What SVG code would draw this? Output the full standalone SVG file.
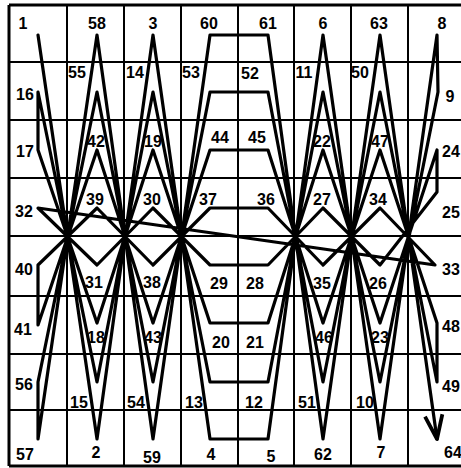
<svg xmlns="http://www.w3.org/2000/svg" width="461" height="468" viewBox="0 0 461 468">
<defs>
<style>
.grid line{stroke:#000;stroke-width:2}
.path{fill:none;stroke:#000;stroke-width:3.2;stroke-linejoin:round;stroke-linecap:round}
text{font-family:"Liberation Sans",Arial,sans-serif;font-weight:bold;font-size:16px;fill:#000;text-anchor:middle}
</style>
<marker id="arr" markerUnits="userSpaceOnUse" markerWidth="30" markerHeight="30" refX="0" refY="0" viewBox="-22 -10 24 20" orient="auto">
<path d="M-19,-7 L0,0 L-19,7" fill="none" stroke="#000" stroke-width="3" stroke-linejoin="round"/>
</marker>
</defs>
<rect width="461" height="468" fill="#fff"/>
<g class="grid" id="grid">
<line x1="9" y1="5" x2="9" y2="466" style="stroke-width:3"/>
<line x1="67" y1="5" x2="67" y2="466"/>
<line x1="124" y1="5" x2="124" y2="466"/>
<line x1="181" y1="5" x2="181" y2="466"/>
<line x1="238" y1="5" x2="238" y2="466"/>
<line x1="294" y1="5" x2="294" y2="466"/>
<line x1="351" y1="5" x2="351" y2="466"/>
<line x1="408" y1="5" x2="408" y2="466"/>
<line x1="9" y1="5" x2="461" y2="5" style="stroke-width:3"/>
<line x1="9" y1="62" x2="461" y2="62"/>
<line x1="9" y1="120" x2="461" y2="120"/>
<line x1="9" y1="178" x2="461" y2="178"/>
<line x1="9" y1="236" x2="461" y2="236"/>
<line x1="9" y1="296" x2="461" y2="296"/>
<line x1="9" y1="354" x2="461" y2="354"/>
<line x1="9" y1="410" x2="461" y2="410"/>
<line x1="9" y1="466" x2="461" y2="466" style="stroke-width:3"/>
</g>
<g id="connectors">
<polyline class="path" marker-end="url(#arr)" points="38,35 97,439 153,35 210,439 268,439 323,35 380,439 437,35 438,92 380,382 323,92 268,382 210,382 153,92 97,382 38,92 38,150 97,323 153,150 210,323 268,323 323,150 380,323 437,150 437,192 380,265 323,208 268,265 210,265 153,208 97,265 38,208 435,265 380,208 323,265 268,208 210,208 153,265 97,208 38,265 38,325 97,150 153,323 210,150 268,150 323,323 380,150 437,323 437,382 380,92 323,382 268,92 210,92 153,382 97,92 38,382 38,439 97,35 153,439 210,35 268,35 323,439 380,35 437,439"/>
</g>
<g id="n1"><text x="23" y="29">1</text></g>
<g id="n58"><text x="97" y="29">58</text></g>
<g id="n3"><text x="153" y="29">3</text></g>
<g id="n60"><text x="209" y="29">60</text></g>
<g id="n61"><text x="268" y="29">61</text></g>
<g id="n6"><text x="323" y="29">6</text></g>
<g id="n63"><text x="379" y="29">63</text></g>
<g id="n8"><text x="442" y="29">8</text></g>
<g id="n16"><text x="25" y="100">16</text></g>
<g id="n55"><text x="77" y="78">55</text></g>
<g id="n14"><text x="135" y="78">14</text></g>
<g id="n53"><text x="191" y="78">53</text></g>
<g id="n52"><text x="250" y="79">52</text></g>
<g id="n11"><text x="304" y="78">11</text></g>
<g id="n50"><text x="360" y="78">50</text></g>
<g id="n9"><text x="450" y="102">9</text></g>
<g id="n17"><text x="25" y="157">17</text></g>
<g id="n42"><text x="96" y="147">42</text></g>
<g id="n19"><text x="153" y="147">19</text></g>
<g id="n44"><text x="220" y="143">44</text></g>
<g id="n45"><text x="257" y="143">45</text></g>
<g id="n22"><text x="322" y="147">22</text></g>
<g id="n47"><text x="380" y="147">47</text></g>
<g id="n24"><text x="451" y="157">24</text></g>
<g id="n32"><text x="24" y="217">32</text></g>
<g id="n39"><text x="95" y="205">39</text></g>
<g id="n30"><text x="152" y="205">30</text></g>
<g id="n37"><text x="208" y="205">37</text></g>
<g id="n36"><text x="266" y="205">36</text></g>
<g id="n27"><text x="322" y="205">27</text></g>
<g id="n34"><text x="378" y="205">34</text></g>
<g id="n25"><text x="451" y="218">25</text></g>
<g id="n40"><text x="24" y="275">40</text></g>
<g id="n31"><text x="94" y="288">31</text></g>
<g id="n38"><text x="152" y="288">38</text></g>
<g id="n29"><text x="219" y="289">29</text></g>
<g id="n28"><text x="255" y="289">28</text></g>
<g id="n35"><text x="322" y="289">35</text></g>
<g id="n26"><text x="378" y="289">26</text></g>
<g id="n33"><text x="451" y="275">33</text></g>
<g id="n41"><text x="23" y="335">41</text></g>
<g id="n18"><text x="96" y="343">18</text></g>
<g id="n43"><text x="153" y="343">43</text></g>
<g id="n20"><text x="221" y="348">20</text></g>
<g id="n21"><text x="255" y="348">21</text></g>
<g id="n46"><text x="324" y="343">46</text></g>
<g id="n23"><text x="380" y="343">23</text></g>
<g id="n48"><text x="451" y="332">48</text></g>
<g id="n56"><text x="24" y="390">56</text></g>
<g id="n15"><text x="79" y="408">15</text></g>
<g id="n54"><text x="136" y="408">54</text></g>
<g id="n13"><text x="194" y="408">13</text></g>
<g id="n12"><text x="254" y="408">12</text></g>
<g id="n51"><text x="307" y="408">51</text></g>
<g id="n10"><text x="365" y="408">10</text></g>
<g id="n49"><text x="451" y="392">49</text></g>
<g id="n57"><text x="25" y="460">57</text></g>
<g id="n2"><text x="96" y="458">2</text></g>
<g id="n59"><text x="152" y="463">59</text></g>
<g id="n4"><text x="211" y="460">4</text></g>
<g id="n5"><text x="271" y="462">5</text></g>
<g id="n62"><text x="323" y="460">62</text></g>
<g id="n7"><text x="381" y="458">7</text></g>
<g id="n64"><text x="453" y="458">64</text></g>
</svg>
